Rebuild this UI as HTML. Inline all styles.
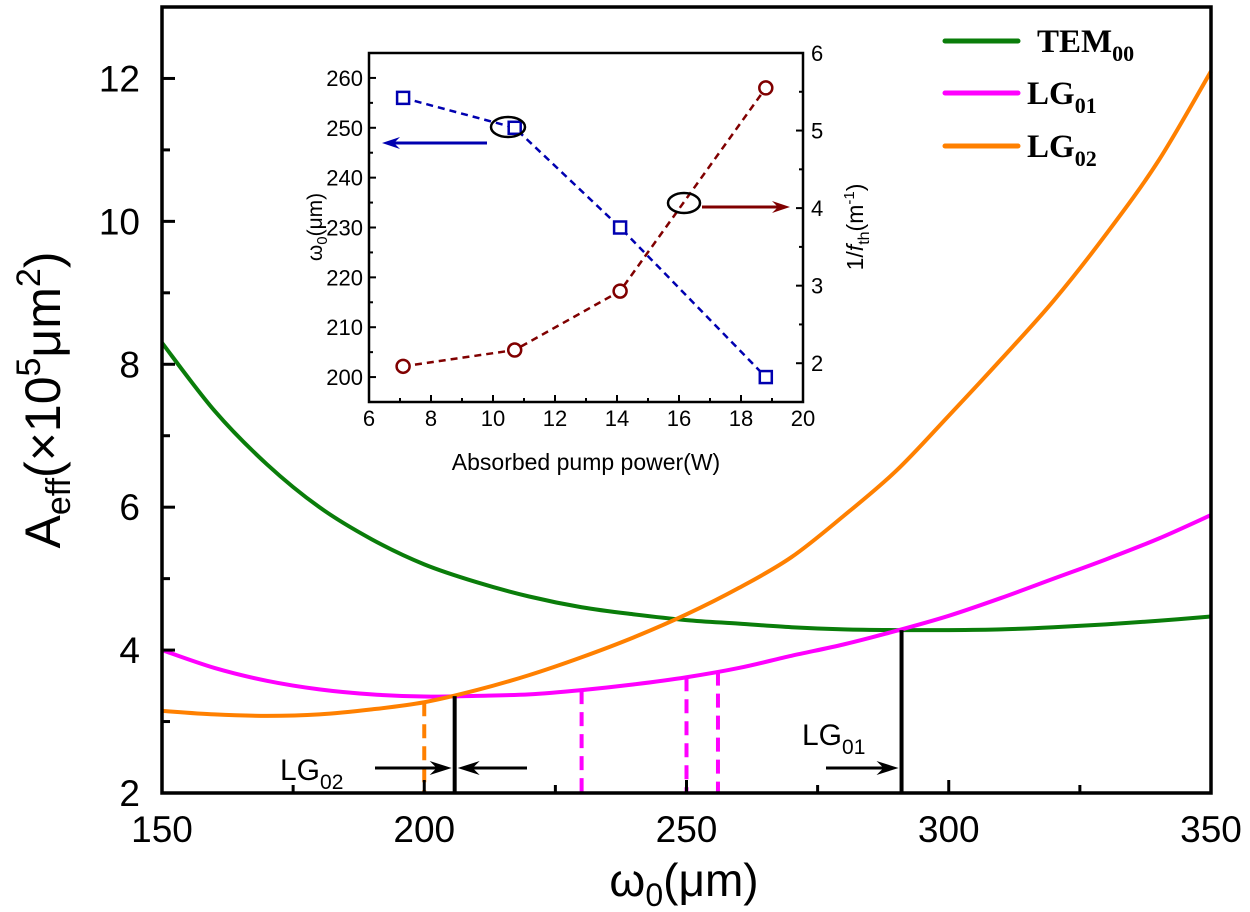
<!DOCTYPE html>
<html><head><meta charset="utf-8"><style>
html,body{margin:0;padding:0;background:#fff;}
svg{display:block;font-family:"Liberation Sans",sans-serif;}
</style></head><body>
<svg id="chart" width="1250" height="912" viewBox="0 0 1250 912" xmlns="http://www.w3.org/2000/svg"></svg>
<script>
// ---- main chart data ----
const xWaist = [150,160,170,180,190,200,210,220,230,240,250,260,270,280,290,300,310,320,330,340,350];
const temValues = [8.3,7.35,6.6,6.0,5.55,5.2,4.95,4.75,4.6,4.5,4.42,4.37,4.32,4.29,4.28,4.28,4.29,4.32,4.36,4.41,4.47];
const lg01Values = [4.0,3.75,3.57,3.45,3.38,3.35,3.36,3.38,3.44,3.52,3.62,3.75,3.92,4.08,4.27,4.48,4.73,5.0,5.27,5.56,5.89];
const lg02Values = [3.15,3.1,3.08,3.1,3.17,3.27,3.44,3.65,3.9,4.18,4.5,4.87,5.3,5.88,6.51,7.28,8.07,8.89,9.82,10.85,12.1];
const xTicks = [150,200,250,300,350];
const yTicks = [2,4,6,8,10,12];
const lg01Markers = [230,250,256];
const lg02Marker = 200;
const lg02Cross = 205.8;
const lg01Cross = 291;
// ---- inset data ----
const insetPower = [7.1,10.7,14.1,18.8];
const insetWaist = [256,250,230,200];
const insetInvF = [1.96,2.17,2.93,5.55];
const insetXTicks = [6,8,10,12,14,16,18,20];
const insetYTicks = [200,210,220,230,240,250,260];
const insetY2Ticks = [2,3,4,5,6];

const svg = document.getElementById('chart');
const NS = 'http://www.w3.org/2000/svg';
function mk(tag, attrs, parent){
  const e = document.createElementNS(NS, tag);
  for (const k in attrs) e.setAttribute(k, attrs[k]);
  (parent||svg).appendChild(e);
  return e;
}
const X0=162,X1=1211,Y0=793,Y1=7;
const sx = v => X0 + (v-150)/(200)*(X1-X0);
const sy = v => Y0 - (v-2)/(11)*(Y0-Y1);
function interp(xs, ys, x){
  for(let i=0;i<xs.length-1;i++){ if(x>=xs[i]&&x<=xs[i+1]){const t=(x-xs[i])/(xs[i+1]-xs[i]);return ys[i]+t*(ys[i+1]-ys[i]);} }
  return ys[ys.length-1];
}
function smoothPath(xs, ys, fx, fy){
  const p = xs.map((x,i)=>[fx(x),fy(ys[i])]);
  let d = 'M'+p[0][0]+','+p[0][1];
  for(let i=0;i<p.length-1;i++){
    const p0=p[i-1]||p[i], p1=p[i], p2=p[i+1], p3=p[i+2]||p2;
    const c1=[p1[0]+(p2[0]-p0[0])/6, p1[1]+(p2[1]-p0[1])/6];
    const c2=[p2[0]-(p3[0]-p1[0])/6, p2[1]-(p3[1]-p1[1])/6];
    d+=' C'+c1[0]+','+c1[1]+' '+c2[0]+','+c2[1]+' '+p2[0]+','+p2[1];
  }
  return d;
}
const g = mk('g',{});



const series = [[temValues,'#0a7d0a','tem00-curve'],[lg01Values,'#ff00ff','lg01-curve'],[lg02Values,'#ff8000','lg02-curve']];
series.forEach(([vals,col,name])=>{
  const p = mk('path',{d:smoothPath(xWaist,vals,sx,sy),fill:'none',stroke:col,'stroke-width':4},g);
  
  
});
lg01Markers.forEach(v=>{
  const l = mk('line',{x1:sx(v),x2:sx(v),y1:sy(interp(xWaist,lg01Values,v)),y2:Y0,stroke:'#ff00ff','stroke-width':4,'stroke-dasharray':'14,8'},g);
  
  
});
{
  const l = mk('line',{x1:sx(lg02Marker),x2:sx(lg02Marker),y1:sy(interp(xWaist,lg02Values,lg02Marker)),y2:Y0,stroke:'#ff8000','stroke-width':4,'stroke-dasharray':'14,8'},g);
  
  
  const b1 = mk('line',{x1:sx(lg02Cross),x2:sx(lg02Cross),y1:sy(interp(xWaist,lg01Values,lg02Cross)),y2:Y0,stroke:'#000','stroke-width':4},g);
  
  
  const b2 = mk('line',{x1:sx(lg01Cross),x2:sx(lg01Cross),y1:sy(interp(xWaist,temValues,lg01Cross)),y2:Y0,stroke:'#000','stroke-width':4},g);
  
  
}
function arrow(x1,y,x2,col,name,w){
  const dir = Math.sign(x2-x1);
  const a = mk('g',{},g);
  
  
  mk('line',{x1:x1,y1:y,x2:x2-dir*12,y2:y,stroke:col,'stroke-width':w||3},a);
  mk('path',{d:`M${x2},${y} L${x2-dir*22},${y-7} L${x2-dir*15},${y} L${x2-dir*22},${y+7} Z`,fill:col},a);
}
arrow(375,768,sx(lg02Cross)-3,'#000','lg02-arrow-right');
arrow(527,768,sx(lg02Cross)+3,'#000','lg02-arrow-left');
arrow(826,768,sx(lg01Cross)-3,'#000','lg01-arrow');
let t = mk('text',{x:280,y:780,'font-size':30},g); t.innerHTML='LG<tspan font-size="21" dy="9">02</tspan>';
 
t = mk('text',{x:802,y:745,'font-size':30},g); t.innerHTML='LG<tspan font-size="21" dy="9">01</tspan>';
 

const fr = mk('rect',{x:X0,y:Y1,width:X1-X0,height:Y0-Y1,fill:'none',stroke:'#000','stroke-width':3.5},g);
 
for(let v=150; v<=350; v+=25){
  const len = (v%50===0)?13:8;
  mk('line',{x1:sx(v),x2:sx(v),y1:Y0,y2:Y0-len,stroke:'#000','stroke-width':3},g);
}
for(let v=2; v<=13; v+=1){
  const len = (v%2===0)?13:8;
  mk('line',{x1:X0,x2:X0+len,y1:sy(v),y2:sy(v),stroke:'#000','stroke-width':3},g);
}
xTicks.forEach(v=>{
  const e = mk('text',{x:sx(v),y:842,'font-size':37,'text-anchor':'middle'},g);
  e.textContent = v;
   
});
yTicks.forEach(v=>{
  const e = mk('text',{x:140,y:sy(v)+13,'font-size':37,'text-anchor':'end'},g);
  e.textContent = v;
   
});
t = mk('text',{x:684,y:896,'font-size':46,'text-anchor':'middle'},g);
t.innerHTML='ω<tspan font-size="32" dy="10">0</tspan><tspan dy="-10">(μm)</tspan>';
 
t = mk('text',{x:0,y:0,'font-size':50,'text-anchor':'middle',transform:'translate(60,400) rotate(-90)'},g);
t.innerHTML='A<tspan font-size="34" dy="10">eff</tspan><tspan dy="-10">(×10</tspan><tspan font-size="34" dy="-20">5</tspan><tspan dy="20">μm</tspan><tspan font-size="34" dy="-20">2</tspan><tspan dy="20">)</tspan>';
 

const leg = [['TEM','00','#0a7d0a',41,1037],['LG','01','#ff00ff',93,1027],['LG','02','#ff8000',146,1027]];
leg.forEach(([a,b,col,y,tx])=>{
  const lg = mk('g',{},g);
   
  mk('line',{x1:945,x2:1018,y1:y,y2:y,stroke:col,'stroke-width':5,'stroke-linecap':'round'},lg);
  const e = mk('text',{x:tx,y:y+11,'font-size':33,'font-weight':'bold','font-family':'Liberation Serif, serif'},lg);
  e.innerHTML = a+'<tspan font-size="22" dy="9">'+b+'</tspan>';
});

// ---- inset ----
const IX0=369,IX1=803,IY0=402,IY1=53;
const ix = v => IX0 + (v-6)/14*(IX1-IX0);
const iy = v => IY0 - (v-195)/70*(IY0-IY1);
const iy2 = v => IY0 - (v-1.5)/4.5*(IY0-IY1);
const ig = mk('g',{});
 
mk('rect',{x:IX0-50,y:IY1-5,width:IX1-IX0+90,height:IY0-IY1+80,fill:'#fff'},ig);
let bl = mk('polyline',{points:insetPower.map((p,i)=>ix(p)+','+iy(insetWaist[i])).join(' '),fill:'none',stroke:'#0000b0','stroke-width':2.5,'stroke-dasharray':'7,5'},ig);
 
bl = mk('polyline',{points:insetPower.map((p,i)=>ix(p)+','+iy2(insetInvF[i])).join(' '),fill:'none',stroke:'#800000','stroke-width':2.5,'stroke-dasharray':'7,5'},ig);
 
insetPower.forEach((p,i)=>{
  const r = mk('rect',{x:ix(p)-6,y:iy(insetWaist[i])-6,width:12,height:12,fill:'#fff',stroke:'#0000b0','stroke-width':2.5},ig);
   
  const c = mk('circle',{cx:ix(p),cy:iy2(insetInvF[i]),r:6.5,fill:'#fff',stroke:'#800000','stroke-width':2.5},ig);
   
});
let el = mk('ellipse',{cx:508,cy:127,rx:17,ry:10,fill:'none',stroke:'#000','stroke-width':2.5},ig);
 
el = mk('ellipse',{cx:684,cy:203,rx:16,ry:10,fill:'none',stroke:'#000','stroke-width':2.5},ig);
 
function iarrow(x1,y,x2,col,name){
  const dir=Math.sign(x2-x1);
  const a=mk('g',{},ig);
   
  mk('line',{x1:x1,y1:y,x2:x2-dir*8,y2:y,stroke:col,'stroke-width':3},a);
  mk('path',{d:`M${x2},${y} L${x2-dir*18},${y-6} L${x2-dir*12},${y} L${x2-dir*18},${y+6} Z`,fill:col},a);
}
iarrow(487,143,382,'#0000b0','left-axis-arrow');
iarrow(702,207,790,'#800000','right-axis-arrow');
const ifr = mk('rect',{x:IX0,y:IY1,width:IX1-IX0,height:IY0-IY1,fill:'none',stroke:'#000','stroke-width':2.5},ig);
 
for(let v=6; v<=20; v+=1){ const len=(v%2===0)?7:4; mk('line',{x1:ix(v),x2:ix(v),y1:IY0,y2:IY0-len,stroke:'#000','stroke-width':2},ig); }
for(let v=195; v<=265; v+=5){ const len=(v%10===0)?7:4; mk('line',{x1:IX0,x2:IX0+len,y1:iy(v),y2:iy(v),stroke:'#000','stroke-width':2},ig); }
for(let v=1.5; v<=6; v+=0.5){ const len=(v%1===0)?7:4; mk('line',{x1:IX1,x2:IX1-len,y1:iy2(v),y2:iy2(v),stroke:'#000','stroke-width':2},ig); }
insetXTicks.forEach(v=>{ const e=mk('text',{x:ix(v),y:426,'font-size':22,'text-anchor':'middle'},ig); e.textContent=v;
    });
insetYTicks.forEach(v=>{ const e=mk('text',{x:363,y:iy(v)+8,'font-size':22,'text-anchor':'end'},ig); e.textContent=v;
    });
insetY2Ticks.forEach(v=>{ const e=mk('text',{x:811,y:iy2(v)+8,'font-size':22},ig); e.textContent=v;
    });
t = mk('text',{x:586,y:470,'font-size':23,'text-anchor':'middle'},ig); t.textContent='Absorbed pump power(W)';
 
t = mk('text',{x:0,y:0,'font-size':21,'text-anchor':'middle',transform:'translate(322,227) rotate(-90)'},ig);
t.innerHTML='ω<tspan font-size="15" dy="5">0</tspan><tspan dy="-5">(μm)</tspan>';
 
t = mk('text',{x:0,y:0,'font-size':23,'text-anchor':'middle',transform:'translate(863,227) rotate(-90)'},ig);
t.innerHTML='1/<tspan font-style="italic">f</tspan><tspan font-size="16" dy="6">th</tspan><tspan dy="-6">(m</tspan><tspan font-size="15" dy="-9">-1</tspan><tspan dy="9">)</tspan>';
 
</script>
</body></html>
